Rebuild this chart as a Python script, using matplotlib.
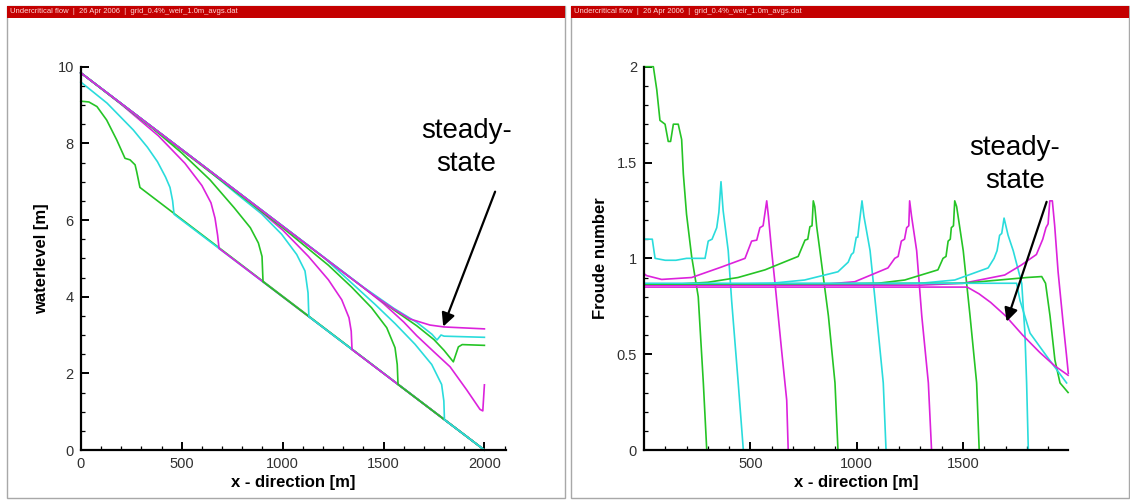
import matplotlib.pyplot as plt
from matplotlib.patches import Rectangle
from matplotlib.ticker import MultipleLocator, FixedLocator, FormatStrFormatter

plt.rcParams['font.family'] = ['Liberation Sans', 'DejaVu Sans']

GREEN = '#25c425'
CYAN = '#2adcdc'
MAGENTA = '#dc22dc'

header = 'Undercritical flow  |  26 Apr 2006  |  grid_0.4%_weir_1.0m_avgs.dat'

# waterlevel [m] vs x [m], snapshots in time order (green, cyan, magenta, ...)
wl_x_g1 = [0, 40, 80, 128, 178, 219, 244, 269, 277, 293, 2000]
wl_y_g1 = [9.10, 9.08, 8.96, 8.61, 8.09, 7.61, 7.57, 7.44, 7.26, 6.85, 0.0]
wl_x_c1 = [0, 130, 260, 330, 380, 420, 442, 455, 462, 2000]
wl_y_c1 = [9.60, 9.05, 8.35, 7.90, 7.52, 7.12, 6.85, 6.50, 6.15, 0.0]
wl_x_m1 = [0, 200, 384, 516, 600, 645, 665, 678, 685, 2000]
wl_y_m1 = [9.84, 9.02, 8.20, 7.48, 6.90, 6.45, 6.05, 5.60, 5.26, 0.0]
wl_x_g2 = [0, 350, 500, 640, 760, 840, 880, 898, 903, 2000]
wl_y_g2 = [9.84, 8.42, 7.75, 7.05, 6.32, 5.80, 5.40, 5.05, 4.39, 0.0]
wl_x_c2 = [0, 600, 764, 896, 995, 1070, 1111, 1126, 1130, 2000]
wl_y_c2 = [9.84, 7.44, 6.72, 6.16, 5.63, 5.10, 4.67, 4.10, 3.48, 0.0]
wl_x_m2 = [0, 800, 1000, 1128, 1227, 1293, 1329, 1340, 1344, 2000]
wl_y_m2 = [9.84, 6.64, 5.74, 5.05, 4.44, 3.92, 3.45, 3.10, 2.62, 0.0]
wl_x_g3 = [0, 1000, 1227, 1342, 1441, 1516, 1557, 1568, 1572, 2000]
wl_y_g3 = [9.84, 5.80, 4.82, 4.25, 3.71, 3.19, 2.67, 2.23, 1.71, 0.0]
wl_x_c3 = [0, 1200, 1458, 1557, 1656, 1739, 1788, 1799, 1802, 2000]
wl_y_c3 = [9.84, 5.04, 3.80, 3.30, 2.76, 2.23, 1.71, 1.28, 0.79, 0.0]
wl_x_m3 = [0, 1400, 1500, 1600, 1665, 1750, 1830, 1912, 1978, 1992, 2000]
wl_y_m3 = [9.84, 4.24, 3.82, 3.34, 2.98, 2.56, 2.17, 1.57, 1.06, 1.02, 1.70]
wl_x_g4 = [0, 1400, 1550, 1665, 1750, 1800, 1846, 1871, 1890, 2000]
wl_y_g4 = [9.84, 4.24, 3.66, 3.24, 2.88, 2.60, 2.30, 2.69, 2.75, 2.73]
wl_x_c4 = [0, 1400, 1550, 1665, 1740, 1765, 1785, 1800, 2000]
wl_y_c4 = [9.84, 4.25, 3.70, 3.33, 3.02, 2.87, 3.00, 2.97, 2.94]
wl_x_m4 = [0, 1450, 1550, 1630, 1730, 1800, 2000]
wl_y_m4 = [9.84, 4.04, 3.68, 3.42, 3.26, 3.21, 3.16]

# Froude number vs x [m]
fr_x_g1 = [0, 44, 60, 75, 99, 114, 125, 138, 161, 177, 185, 200, 224, 255, 279, 295]
fr_y_g1 = [2.0, 2.0, 1.88, 1.72, 1.70, 1.61, 1.61, 1.70, 1.70, 1.62, 1.44, 1.23, 1.01, 0.80, 0.35, 0.0]
fr_x_c1 = [0, 39, 52, 100, 150, 200, 287, 302, 320, 342, 352, 362, 372, 396, 412, 443, 467]
fr_y_c1 = [1.10, 1.10, 1.00, 0.99, 0.99, 1.00, 1.00, 1.09, 1.10, 1.16, 1.24, 1.40, 1.25, 1.04, 0.78, 0.35, 0.0]
fr_x_m1 = [0, 12, 83, 224, 365, 475, 506, 530, 545, 560, 577, 585, 600, 616, 647, 671, 678]
fr_y_m1 = [0.92, 0.91, 0.89, 0.90, 0.955, 1.0, 1.09, 1.095, 1.16, 1.17, 1.30, 1.22, 1.04, 0.87, 0.52, 0.26, 0.0]
fr_x_g2 = [0, 150, 300, 442, 569, 680, 725, 757, 770, 780, 790, 796, 803, 812, 827, 867, 898, 912]
fr_y_g2 = [0.865, 0.865, 0.875, 0.90, 0.94, 0.99, 1.01, 1.095, 1.10, 1.165, 1.17, 1.30, 1.27, 1.165, 1.04, 0.70, 0.35, 0.0]
fr_x_c2 = [0, 400, 600, 755, 912, 960, 975, 985, 998, 1005, 1011, 1025, 1034, 1063, 1094, 1125, 1138]
fr_y_c2 = [0.865, 0.865, 0.87, 0.887, 0.93, 0.98, 1.02, 1.03, 1.11, 1.11, 1.17, 1.30, 1.22, 1.04, 0.70, 0.35, 0.0]
fr_x_m2 = [0, 700, 850, 991, 1147, 1179, 1195, 1210, 1225, 1235, 1245, 1249, 1258, 1282, 1306, 1337, 1352]
fr_y_m2 = [0.86, 0.86, 0.865, 0.878, 0.95, 1.0, 1.01, 1.09, 1.10, 1.16, 1.17, 1.30, 1.22, 1.04, 0.70, 0.35, 0.0]
fr_x_g3 = [0, 900, 1100, 1226, 1382, 1406, 1420, 1430, 1440, 1445, 1455, 1461, 1470, 1501, 1533, 1564, 1576]
fr_y_g3 = [0.865, 0.865, 0.87, 0.887, 0.94, 1.0, 1.01, 1.09, 1.10, 1.16, 1.17, 1.30, 1.27, 1.04, 0.70, 0.35, 0.0]
fr_x_c3 = [0, 1100, 1300, 1461, 1618, 1646, 1660, 1672, 1682, 1693, 1712, 1736, 1776, 1791, 1799, 1807]
fr_y_c3 = [0.865, 0.865, 0.87, 0.887, 0.95, 1.0, 1.04, 1.12, 1.13, 1.21, 1.12, 1.04, 0.87, 0.61, 0.35, 0.0]
fr_x_m3 = [0, 1300, 1500, 1696, 1774, 1845, 1860, 1875, 1890, 1900, 1908, 1920, 1931, 1947, 1970, 1986, 1995]
fr_y_m3 = [0.86, 0.86, 0.87, 0.913, 0.965, 1.02, 1.06, 1.10, 1.16, 1.18, 1.30, 1.30, 1.17, 0.93, 0.67, 0.50, 0.40]
fr_x_g4 = [0, 1500, 1650, 1800, 1870, 1888, 1909, 1932, 1956, 1994]
fr_y_g4 = [0.865, 0.87, 0.885, 0.90, 0.905, 0.87, 0.70, 0.47, 0.35, 0.30]
fr_x_c4 = [0, 1600, 1752, 1768, 1815, 1893, 1987]
fr_y_c4 = [0.87, 0.87, 0.87, 0.78, 0.61, 0.49, 0.35]
fr_x_m4 = [0, 1520, 1575, 1630, 1700, 1780, 1860, 1930, 1994]
fr_y_m4 = [0.85, 0.85, 0.815, 0.77, 0.70, 0.60, 0.51, 0.44, 0.39]

colours = [GREEN, CYAN, MAGENTA] * 4
wl_series = [(wl_x_g1, wl_y_g1), (wl_x_c1, wl_y_c1), (wl_x_m1, wl_y_m1),
             (wl_x_g2, wl_y_g2), (wl_x_c2, wl_y_c2), (wl_x_m2, wl_y_m2),
             (wl_x_g3, wl_y_g3), (wl_x_c3, wl_y_c3), (wl_x_m3, wl_y_m3),
             (wl_x_g4, wl_y_g4), (wl_x_c4, wl_y_c4), (wl_x_m4, wl_y_m4)]
fr_series = [(fr_x_g1, fr_y_g1), (fr_x_c1, fr_y_c1), (fr_x_m1, fr_y_m1),
             (fr_x_g2, fr_y_g2), (fr_x_c2, fr_y_c2), (fr_x_m2, fr_y_m2),
             (fr_x_g3, fr_y_g3), (fr_x_c3, fr_y_c3), (fr_x_m3, fr_y_m3),
             (fr_x_g4, fr_y_g4), (fr_x_c4, fr_y_c4), (fr_x_m4, fr_y_m4)]

W, H = 1130, 501
fig = plt.figure(figsize=(W / 100, H / 100), dpi=100)

# panel frames and red header bars (Tecplot style)
for x0, x1 in [(7, 565), (571, 1129)]:
    fig.add_artist(Rectangle((x0 / W, 1 - 498 / H), (x1 - x0) / W, (498 - 6) / H,
                             transform=fig.transFigure, fill=False,
                             edgecolor='#a8a8a8', lw=1.0))
    fig.add_artist(Rectangle((x0 / W, 1 - 17.5 / H), (x1 - x0) / W, 12 / H,
                             transform=fig.transFigure, facecolor='#c40000',
                             edgecolor='none'))
    fig.text((x0 + 3) / W, 1 - 11.5 / H, header, fontsize=5.5, color='#ffd8d8',
             va='center', ha='left')

ax1 = fig.add_axes([80.8 / W, 51 / H, 424.8 / W, 383.3 / H])
ax2 = fig.add_axes([644 / W, 51 / H, 424.3 / W, 383.3 / H])

for (xs, ys), c in zip(wl_series, colours):
    ax1.plot(xs, ys, color=c, lw=1.2, clip_on=False)
for (xs, ys), c in zip(fr_series, colours):
    ax2.plot(xs, ys, color=c, lw=1.2, clip_on=False)

ax1.set_xlim(0, 2105)
ax1.set_ylim(0, 10)
ax1.xaxis.set_major_locator(FixedLocator([0, 500, 1000, 1500, 2000]))
ax1.xaxis.set_minor_locator(MultipleLocator(100))
ax1.yaxis.set_major_locator(MultipleLocator(2))
ax1.yaxis.set_minor_locator(MultipleLocator(0.5))
ax1.set_ylabel('waterlevel [m]', fontsize=12, fontweight='bold', labelpad=6)

ax2.set_xlim(0, 1995)
ax2.set_ylim(0, 2)
ax2.xaxis.set_major_locator(FixedLocator([500, 1000, 1500]))
ax2.xaxis.set_minor_locator(FixedLocator(list(range(100, 2000, 100))))
ax2.yaxis.set_major_locator(MultipleLocator(0.5))
ax2.yaxis.set_minor_locator(MultipleLocator(0.1))
ax2.yaxis.set_major_formatter(FormatStrFormatter('%g'))
ax2.set_ylabel('Froude number', fontsize=12, fontweight='bold', labelpad=6)

for ax in (ax1, ax2):
    ax.set_xlabel('x - direction [m]', fontsize=12, fontweight='bold', labelpad=3)
    ax.spines['top'].set_visible(False)
    ax.spines['right'].set_visible(False)
    ax.spines['left'].set_linewidth(1.6)
    ax.spines['bottom'].set_linewidth(1.6)
    ax.tick_params(which='major', direction='in', length=6, width=1.4,
                   labelsize=10.5, labelcolor='#303030', pad=5)
    ax.tick_params(which='minor', direction='in', length=3, width=0.9)
    ax.set_facecolor('none')

# annotations
ax1.text(1911, 7.9, 'steady-\nstate', fontsize=20, ha='center', va='center',
         linespacing=1.35)
ax1.annotate('', xy=(1796, 3.22), xytext=(2053, 6.74), annotation_clip=False,
             arrowprops=dict(arrowstyle='-|>', color='black', lw=1.6,
                             mutation_scale=20, shrinkA=0, shrinkB=0))
ax2.text(1744, 1.49, 'steady-\nstate', fontsize=20, ha='center', va='center',
         linespacing=1.35)
ax2.annotate('', xy=(1705, 0.67), xytext=(1893, 1.295), annotation_clip=False,
             arrowprops=dict(arrowstyle='-|>', color='black', lw=1.6,
                             mutation_scale=20, shrinkA=0, shrinkB=0))

fig.savefig('out.png', dpi=100)
